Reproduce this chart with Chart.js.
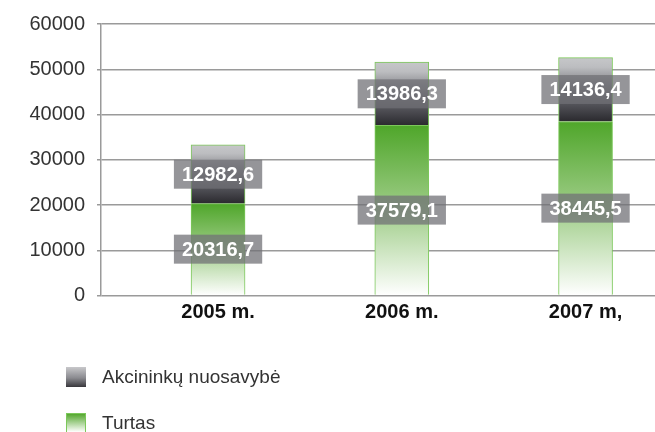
<!DOCTYPE html>
<html>
<head>
<meta charset="utf-8">
<script src="https://cdn.jsdelivr.net/npm/chart.js@4/dist/chart.umd.min.js"></script>
<style>
  html, body { margin: 0; padding: 0; background: #fff; }
  #wrap { position: relative; width: 655px; height: 432px; overflow: hidden; }
  #chart { position: absolute; left: 0; top: 0; }
  .legend-item {
    position: absolute; left: 66px; height: 20px;
    font: 19px "Liberation Sans", Arial, sans-serif; color: #333;
    display: flex; align-items: center;
  }
  .swatch { width: 20px; height: 20px; margin-right: 16px; box-sizing: border-box; }
  .swatch.equity { background: linear-gradient(#c8c8cb, #8a8a8f 55%, #38373c); }
  .swatch.assets { background: linear-gradient(#55a82f, #ffffff); border: 1px solid #7cc85a; }
</style>
</head>
<body>
<div id="wrap">
  <canvas id="chart" width="655" height="432"></canvas>
  <div class="legend-item" style="top:367px"><span class="swatch equity"></span>Akcininkų nuosavybė</div>
  <div class="legend-item" style="top:413px"><span class="swatch assets"></span>Turtas</div>
</div>
<script>
const YEARS = ["2005 m.", "2006 m.", "2007 m,"];
const TURTAS = [20316.7, 37579.1, 38445.5];
const AKCININKU = [12982.6, 13986.3, 14136.4];
const Y_TICKS = [0, 10000, 20000, 30000, 40000, 50000, 60000];

const GRID = "#9a9a9a";
const BAR_EDGE = "#7cc85a";
const FONT = '"Liberation Sans", Arial, sans-serif';

// gradientas kiekvienam segmentui atskirai: nuo jo viršaus iki apačios
function segmentFill(stops) {
  return (ctx) => {
    const chart = ctx.chart;
    if (!chart.chartArea || ctx.type !== "data") return stops[0][1];
    const i = ctx.dataIndex;
    const base = ctx.datasetIndex === 0 ? 0 : TURTAS[i];
    const top = base + (ctx.datasetIndex === 0 ? TURTAS[i] : AKCININKU[i]);
    const y = chart.scales.y;
    const g = chart.ctx.createLinearGradient(
      0, y.getPixelForValue(top), 0, y.getPixelForValue(base)
    );
    stops.forEach(([o, c]) => g.addColorStop(o, c));
    return g;
  };
}

const fmt = (v) => v.toFixed(1).replace(".", ",");

const valueBoxes = {
  id: "valueBoxes",
  afterDatasetsDraw(chart) {
    const c = chart.ctx;
    c.save();
    c.font = "bold 20px " + FONT;
    c.textAlign = "center";
    c.textBaseline = "middle";
    chart.data.datasets.forEach((ds, di) => {
      chart.getDatasetMeta(di).data.forEach((bar, i) => {
        const txt = fmt(ds.values[i]);
        const w = c.measureText(txt).width + 16;
        const h = 29;
        const cy = (bar.y + bar.base) / 2;
        c.fillStyle = "rgba(112,112,118,0.74)";
        c.fillRect(bar.x - w / 2, cy - h / 2, w, h);
        c.fillStyle = "#ffffff";
        c.fillText(txt, bar.x, cy + 1);
      });
    });
    c.restore();
  },
};

new Chart(document.getElementById("chart"), {
  type: "bar",
  data: {
    datasets: [
      {
        label: "Turtas",
        values: TURTAS,
        data: TURTAS.map((v, i) => ({ x: i, y: v })),
        backgroundColor: segmentFill([[0, "#4fa62a"], [0.5, "#9fcd88"], [1, "#ffffff"]]),
        borderColor: BAR_EDGE,
        borderWidth: 1,
        borderSkipped: "bottom",
        barThickness: 54,
      },
      {
        label: "Akcininkų nuosavybė",
        values: AKCININKU,
        data: AKCININKU.map((v, i) => ({ x: i, y: v })),
        backgroundColor: segmentFill([
          [0, "#c6c7c9"], [0.15, "#bcbdc0"], [0.5, "#707076"],
          [0.75, "#505056"], [1, "#2a292e"],
        ]),
        borderColor: BAR_EDGE,
        borderWidth: 1,
        borderSkipped: "bottom",
        barThickness: 54,
      },
    ],
  },
  options: {
    responsive: false,
    animation: false,
    events: [],
    layout: { padding: { top: 22.5, left: 0, right: 0, bottom: 96.5 } },
    plugins: { legend: { display: false }, tooltip: { enabled: false } },
    scales: {
      x: {
        type: "linear",
        stacked: true,
        offset: false,
        min: -0.637,
        max: 2.378,
        afterBuildTicks: (s) => { s.ticks = YEARS.map((_, i) => ({ value: i })); },
        afterFit: (s) => { s.height = 40; },
        grid: { display: false, drawTicks: false },
        border: { display: false },
        ticks: {
          padding: 5,
          color: "#111",
          font: { family: FONT, size: 20, weight: "bold" },
          callback: (v) => YEARS[v] ?? "",
        },
      },
      y: {
        stacked: true,
        min: 0,
        max: 60000,
        afterBuildTicks: (s) => { s.ticks = Y_TICKS.map((v) => ({ value: v })); },
        afterFit: (s) => { s.width = 101; },
        grid: { color: GRID, lineWidth: 1.5, tickLength: 4 },
        border: { display: true, color: GRID, width: 1.5 },
        ticks: {
          padding: 12,
          color: "#333",
          font: { family: FONT, size: 20 },
          callback: (v) => String(v),
        },
      },
    },
  },
  plugins: [valueBoxes],
});
</script>
</body>
</html>
